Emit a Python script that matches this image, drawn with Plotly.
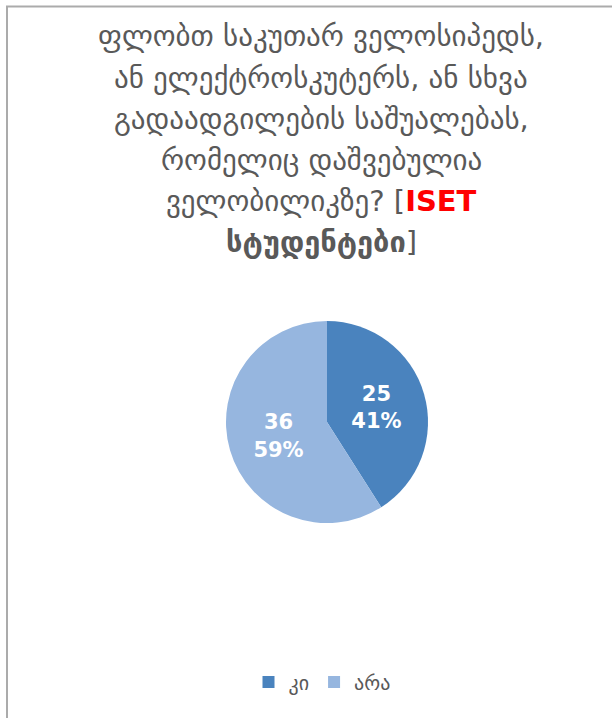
import plotly.graph_objects as go

# Survey answers (ISET students)
labels = ["კი", "არა"]
counts = [25, 36]
colors = ["#4a83be", "#96b6df"]

title_lines = [
    "ფლობთ საკუთარ ველოსიპედს,",
    "ან ელექტროსკუტერს, ან სხვა",
    "გადაადგილების საშუალებას,",
    "რომელიც დაშვებულია",
    "ველობილიკზე? [<b><span style='color:#ff0000'>ISET</span></b>",
    "<b>სტუდენტები</b>]",
]

W, H = 612, 718

fig = go.Figure(
    go.Pie(
        labels=labels,
        values=counts,
        sort=False,
        direction="clockwise",
        rotation=0,
        marker=dict(colors=colors, line=dict(width=0)),
        texttemplate="<b>%{value}<br>%{percent:.0%}</b>",
        textposition="inside",
        insidetextorientation="horizontal",
        textfont=dict(family="DejaVu Sans", size=21, color="white"),
        domain=dict(x=[226 / W, 428 / W], y=[(H - 523) / H, (H - 321) / H]),
        hoverinfo="label+value+percent",
    )
)

# Title lines, one annotation each for fixed line spacing
line_y = [36, 78, 119, 160, 201, 242]
for text, yp in zip(title_lines, line_y):
    fig.add_annotation(
        x=321 / W, y=(H - yp) / H, xref="paper", yref="paper",
        text=text, showarrow=False, xanchor="center", yanchor="middle",
        font=dict(family="DejaVu Sans", size=29, color="#595959"),
    )

# Chart frame (top and left edges)
fig.add_shape(type="line", xref="paper", yref="paper",
              x0=6 / W, x1=1, y0=(H - 6.5) / H, y1=(H - 6.5) / H,
              line=dict(color="#ababab", width=2))
fig.add_shape(type="line", xref="paper", yref="paper",
              x0=7 / W, x1=7 / W, y0=0, y1=(H - 6.5) / H,
              line=dict(color="#ababab", width=2))

fig.update_layout(
    width=W, height=H,
    margin=dict(l=0, r=0, t=0, b=0),
    paper_bgcolor="white",
    plot_bgcolor="white",
    showlegend=True,
    legend=dict(
        orientation="h", x=322 / W, xanchor="center",
        y=(H - 682) / H, yanchor="middle",
        font=dict(family="DejaVu Sans", size=20, color="#595959"),
        itemwidth=30,
    ),
)

fig.write_html("out.html")
